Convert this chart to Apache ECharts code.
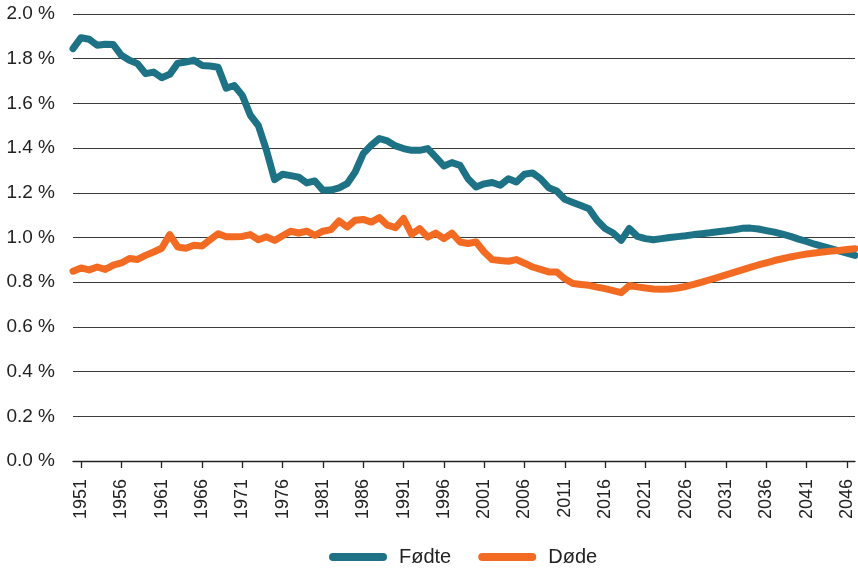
<!DOCTYPE html>
<html>
<head>
<meta charset="utf-8">
<script src="https://cdn.jsdelivr.net/npm/echarts@6/dist/echarts.min.js"></script>
<style>
  html, body { margin: 0; padding: 0; background: #ffffff; }
  #chart { width: 858px; height: 569px; }
</style>
</head>
<body>
<div id="chart"></div>
<script>
var years = [
  1950,1951,1952,1953,1954,1955,1956,1957,1958,1959,
  1960,1961,1962,1963,1964,1965,1966,1967,1968,1969,
  1970,1971,1972,1973,1974,1975,1976,1977,1978,1979,
  1980,1981,1982,1983,1984,1985,1986,1987,1988,1989,
  1990,1991,1992,1993,1994,1995,1996,1997,1998,1999,
  2000,2001,2002,2003,2004,2005,2006,2007,2008,2009,
  2010,2011,2012,2013,2014,2015,2016,2017,2018,2019,
  2020,2021,2022,2023,2024,2025,2026,2027,2028,2029,
  2030,2031,2032,2033,2034,2035,2036,2037,2038,2039,
  2040,2041,2042,2043,2044,2045,2046,2047
];

var fodte = [
  1.845,1.894,1.887,1.860,1.865,1.863,1.815,1.793,1.778,1.733,
  1.740,1.715,1.730,1.780,1.785,1.793,1.770,1.767,1.762,1.668,
  1.680,1.636,1.547,1.500,1.390,1.259,1.283,1.277,1.270,1.244,
  1.253,1.211,1.212,1.222,1.241,1.293,1.375,1.413,1.443,1.432,
  1.410,1.398,1.390,1.390,1.398,1.360,1.320,1.335,1.323,1.263,
  1.226,1.240,1.246,1.234,1.263,1.248,1.283,1.289,1.263,1.223,
  1.208,1.171,1.157,1.143,1.129,1.077,1.040,1.020,0.987,1.040,
  1.005,0.995,0.990,0.995,1.000,1.004,1.008,1.013,1.017,1.021,
  1.026,1.030,1.035,1.041,1.042,1.038,1.031,1.024,1.015,1.005,
  0.993,0.982,0.970,0.960,0.950,0.940,0.930,0.920
];

var dode = [
  0.849,0.864,0.855,0.868,0.857,0.876,0.886,0.906,0.902,0.920,
  0.935,0.952,1.013,0.957,0.952,0.965,0.962,0.990,1.017,1.003,
  1.003,1.005,1.013,0.990,1.003,0.987,1.008,1.028,1.020,1.028,
  1.010,1.028,1.035,1.074,1.047,1.077,1.081,1.069,1.089,1.055,
  1.044,1.085,1.014,1.040,1.002,1.020,0.995,1.020,0.980,0.973,
  0.980,0.935,0.901,0.897,0.894,0.901,0.885,0.868,0.857,0.846,
  0.846,0.815,0.794,0.790,0.786,0.778,0.771,0.762,0.753,0.785,
  0.779,0.774,0.770,0.768,0.770,0.774,0.781,0.790,0.800,0.811,
  0.822,0.833,0.844,0.855,0.866,0.877,0.887,0.897,0.905,0.913,
  0.920,0.926,0.931,0.935,0.939,0.942,0.946,0.950
];

var seriesNames = ['Fødte', 'Døde'];
var yTicks = [0, 0.2, 0.4, 0.6, 0.8, 1.0, 1.2, 1.4, 1.6, 1.8, 2.0];

var chart = echarts.init(document.getElementById('chart'), null, { renderer: 'canvas' });

function showYear(index, value) {
  return (Number(value) - 1951) % 5 === 0;
}

var pillIcon = 'path://M4,0 L54,0 A4,4 0 0 1 54,8 L4,8 A4,4 0 0 1 4,0 Z';

chart.setOption({
  animation: false,
  backgroundColor: '#ffffff',
  textStyle: { fontFamily: 'Liberation Sans, Arial, sans-serif' },
  grid: { left: 73, right: 3, top: 14, bottom: 108, containLabel: false },
  legend: {
    data: seriesNames,
    left: 324,
    top: 542,
    itemWidth: 58,
    itemHeight: 8,
    itemGap: 27,
    icon: pillIcon,
    textStyle: { fontSize: 20, color: '#222222', padding: [0, 0, 0, 7] }
  },
  xAxis: {
    type: 'category',
    data: years,
    boundaryGap: false,
    axisLine: { show: true, lineStyle: { color: '#222222', width: 1.3 } },
    axisTick: { show: true, length: 7, interval: showYear, lineStyle: { color: '#222222', width: 1.3 } },
    axisLabel: {
      interval: showYear,
      rotate: 90,
      margin: 18,
      fontSize: 18,
      color: '#222222'
    },
    splitLine: { show: false }
  },
  yAxis: {
    type: 'value',
    min: yTicks[0],
    max: yTicks[yTicks.length - 1],
    interval: 0.2,
    axisLine: { show: false },
    axisTick: { show: false },
    axisLabel: {
      margin: 18,
      fontSize: 19,
      color: '#222222',
      formatter: function (v) { return v.toFixed(1) + ' %'; }
    },
    splitLine: { show: true, lineStyle: { color: '#3a3a3a', width: 1 } }
  },
  series: [
    {
      name: seriesNames[0],
      type: 'line',
      data: fodte,
      symbol: 'none',
      smooth: false,
      color: '#1e7286',
      lineStyle: { width: 7, color: '#1e7286', cap: 'round', join: 'round' },
      z: 3
    },
    {
      name: seriesNames[1],
      type: 'line',
      data: dode,
      symbol: 'none',
      smooth: false,
      color: '#f36b22',
      lineStyle: { width: 7, color: '#f36b22', cap: 'round', join: 'round' },
      z: 4
    }
  ]
});
</script>
</body>
</html>
